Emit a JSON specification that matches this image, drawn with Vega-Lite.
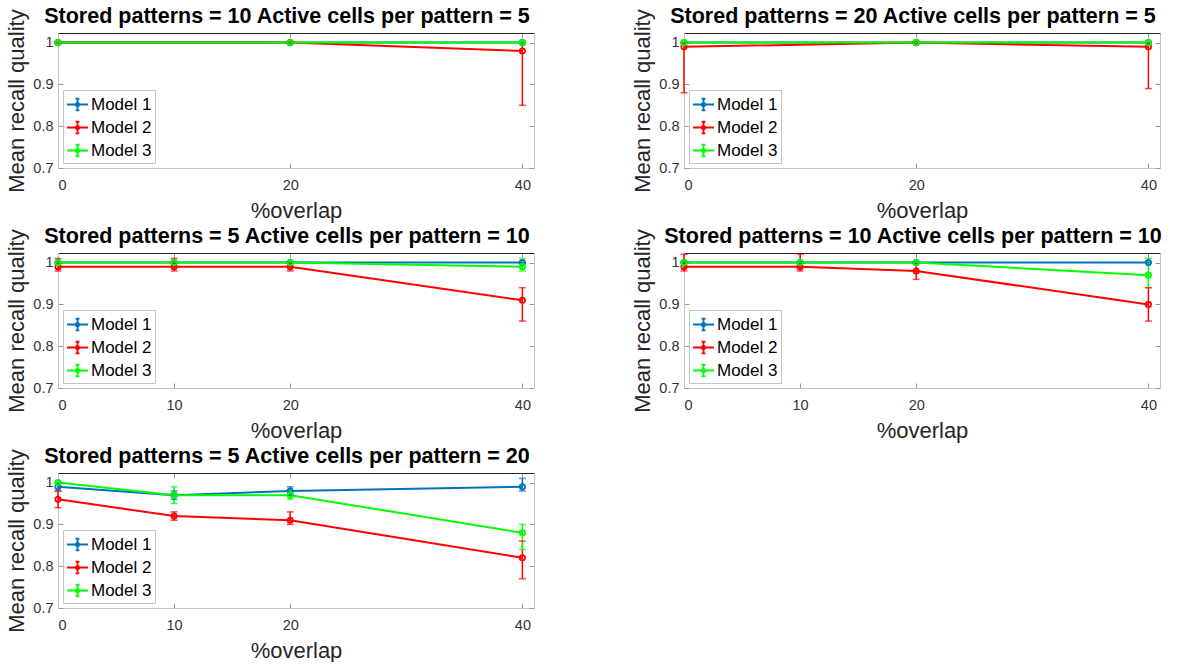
{
  "$schema": "https://vega.github.io/schema/vega-lite/v6.json",
  "padding": {"left": 5, "top": 5, "right": 0, "bottom": 0},
  "background": "white",
  "config": {
    "font": "Liberation Sans",
    "view": {"stroke": "#c4c4c4", "strokeWidth": 1},
    "axis": {
      "grid": false,
      "labelFont": "Liberation Sans",
      "labelFontSize": 14.5,
      "labelColor": "#333333",
      "titleFont": "Liberation Sans",
      "titleFontSize": 22,
      "titleFontWeight": "normal",
      "titleColor": "#262626",
      "domainColor": "#c4c4c4",
      "tickColor": "#9a9a9a",
      "tickSize": -5
    },
    "title": {"font": "Liberation Sans", "fontSize": 21.5, "fontWeight": "bold", "color": "#000000", "anchor": "middle", "offset": -19, "dx": -9},
    "legend": {
      "orient": "bottom-left",
      "offset": 5,
      "padding": 3,
      "strokeColor": "#c4c4c4",
      "fillColor": "white",
      "labelFont": "Liberation Sans",
      "labelFontSize": 17,
      "labelColor": "#000000",
      "labelOffset": 2,
      "rowPadding": 2,
      "symbolSize": 441,
      "symbolStrokeWidth": 1.8,
      "symbolType": "M-1,0H1M0,-0.55V0.55M-0.18,-0.55H0.18M-0.18,0.55H0.18M0.16,0A0.16,0.16,0,1,1,-0.16,0A0.16,0.16,0,1,1,0.16,0Z"
    }
  },
  "data": {
    "values": [
      {"panel": 1, "overlap": 0, "model": "Model 1", "mean": 1, "lo": 1, "hi": 1},
      {"panel": 1, "overlap": 20, "model": "Model 1", "mean": 1, "lo": 1, "hi": 1},
      {"panel": 1, "overlap": 40, "model": "Model 1", "mean": 1, "lo": 1, "hi": 1},
      {"panel": 1, "overlap": 0, "model": "Model 2", "mean": 1, "lo": 1, "hi": 1},
      {"panel": 1, "overlap": 20, "model": "Model 2", "mean": 1, "lo": 1, "hi": 1},
      {"panel": 1, "overlap": 40, "model": "Model 2", "mean": 0.98, "lo": 0.85, "hi": 1.0},
      {"panel": 1, "overlap": 0, "model": "Model 3", "mean": 1, "lo": 1, "hi": 1},
      {"panel": 1, "overlap": 20, "model": "Model 3", "mean": 1, "lo": 1, "hi": 1},
      {"panel": 1, "overlap": 40, "model": "Model 3", "mean": 1, "lo": 1, "hi": 1},

      {"panel": 2, "overlap": 0, "model": "Model 1", "mean": 1, "lo": 1, "hi": 1},
      {"panel": 2, "overlap": 20, "model": "Model 1", "mean": 1, "lo": 1, "hi": 1},
      {"panel": 2, "overlap": 40, "model": "Model 1", "mean": 1, "lo": 1, "hi": 1},
      {"panel": 2, "overlap": 0, "model": "Model 2", "mean": 0.99, "lo": 0.88, "hi": 1.0},
      {"panel": 2, "overlap": 20, "model": "Model 2", "mean": 1, "lo": 1, "hi": 1},
      {"panel": 2, "overlap": 40, "model": "Model 2", "mean": 0.99, "lo": 0.89, "hi": 1.0},
      {"panel": 2, "overlap": 0, "model": "Model 3", "mean": 1, "lo": 1, "hi": 1},
      {"panel": 2, "overlap": 20, "model": "Model 3", "mean": 1, "lo": 1, "hi": 1},
      {"panel": 2, "overlap": 40, "model": "Model 3", "mean": 1, "lo": 1, "hi": 1},

      {"panel": 3, "overlap": 0, "model": "Model 1", "mean": 1, "lo": 1, "hi": 1},
      {"panel": 3, "overlap": 10, "model": "Model 1", "mean": 1, "lo": 1, "hi": 1},
      {"panel": 3, "overlap": 20, "model": "Model 1", "mean": 1, "lo": 1, "hi": 1},
      {"panel": 3, "overlap": 40, "model": "Model 1", "mean": 1, "lo": 1, "hi": 1},
      {"panel": 3, "overlap": 0, "model": "Model 2", "mean": 0.99, "lo": 0.98, "hi": 1.01},
      {"panel": 3, "overlap": 10, "model": "Model 2", "mean": 0.99, "lo": 0.98, "hi": 1.01},
      {"panel": 3, "overlap": 20, "model": "Model 2", "mean": 0.99, "lo": 0.98, "hi": 1.0},
      {"panel": 3, "overlap": 40, "model": "Model 2", "mean": 0.91, "lo": 0.86, "hi": 0.94},
      {"panel": 3, "overlap": 0, "model": "Model 3", "mean": 1, "lo": 1, "hi": 1},
      {"panel": 3, "overlap": 10, "model": "Model 3", "mean": 1, "lo": 1, "hi": 1},
      {"panel": 3, "overlap": 20, "model": "Model 3", "mean": 1, "lo": 1, "hi": 1},
      {"panel": 3, "overlap": 40, "model": "Model 3", "mean": 0.99, "lo": 0.98, "hi": 1.01},

      {"panel": 4, "overlap": 0, "model": "Model 1", "mean": 1, "lo": 1, "hi": 1},
      {"panel": 4, "overlap": 10, "model": "Model 1", "mean": 1, "lo": 1, "hi": 1},
      {"panel": 4, "overlap": 20, "model": "Model 1", "mean": 1, "lo": 1, "hi": 1},
      {"panel": 4, "overlap": 40, "model": "Model 1", "mean": 1, "lo": 1, "hi": 1},
      {"panel": 4, "overlap": 0, "model": "Model 2", "mean": 0.99, "lo": 0.98, "hi": 1.02},
      {"panel": 4, "overlap": 10, "model": "Model 2", "mean": 0.99, "lo": 0.98, "hi": 1.02},
      {"panel": 4, "overlap": 20, "model": "Model 2", "mean": 0.98, "lo": 0.96, "hi": 1.0},
      {"panel": 4, "overlap": 40, "model": "Model 2", "mean": 0.90, "lo": 0.86, "hi": 0.94},
      {"panel": 4, "overlap": 0, "model": "Model 3", "mean": 1, "lo": 1, "hi": 1},
      {"panel": 4, "overlap": 10, "model": "Model 3", "mean": 1, "lo": 1, "hi": 1},
      {"panel": 4, "overlap": 20, "model": "Model 3", "mean": 1, "lo": 1, "hi": 1},
      {"panel": 4, "overlap": 40, "model": "Model 3", "mean": 0.97, "lo": 0.94, "hi": 1.01},

      {"panel": 5, "overlap": 0, "model": "Model 1", "mean": 0.99, "lo": 0.98, "hi": 1.0},
      {"panel": 5, "overlap": 10, "model": "Model 1", "mean": 0.97, "lo": 0.96, "hi": 0.98},
      {"panel": 5, "overlap": 20, "model": "Model 1", "mean": 0.98, "lo": 0.97, "hi": 0.99},
      {"panel": 5, "overlap": 40, "model": "Model 1", "mean": 0.99, "lo": 0.98, "hi": 1.01},
      {"panel": 5, "overlap": 0, "model": "Model 2", "mean": 0.96, "lo": 0.94, "hi": 0.98},
      {"panel": 5, "overlap": 10, "model": "Model 2", "mean": 0.92, "lo": 0.91, "hi": 0.93},
      {"panel": 5, "overlap": 20, "model": "Model 2", "mean": 0.91, "lo": 0.90, "hi": 0.93},
      {"panel": 5, "overlap": 40, "model": "Model 2", "mean": 0.82, "lo": 0.77, "hi": 0.86},
      {"panel": 5, "overlap": 0, "model": "Model 3", "mean": 1, "lo": 1, "hi": 1},
      {"panel": 5, "overlap": 10, "model": "Model 3", "mean": 0.97, "lo": 0.95, "hi": 0.99},
      {"panel": 5, "overlap": 20, "model": "Model 3", "mean": 0.97, "lo": 0.96, "hi": 0.98},
      {"panel": 5, "overlap": 40, "model": "Model 3", "mean": 0.88, "lo": 0.84, "hi": 0.90}
    ]
  },
  "columns": 2,
  "spacing": {"row": 85, "column": 150},
  "bounds": "flush",
  "resolve": {"scale": {"color": "independent"}, "legend": {"color": "independent"}},
  "concat": [
    {
      "title": "Stored patterns = 10 Active cells per pattern = 5",
      "width": 476, "height": 135,
      "transform": [{"filter": "datum.panel == 1"}],
      "resolve": {"axis": {"x": "independent", "y": "independent"}},
      "layer": [
        {"mark": {"type": "line", "strokeWidth": 2},
         "encoding": {
           "x": {"field": "overlap", "type": "quantitative", "scale": {"domain": [0, 41], "nice": false, "zero": false}, "axis": {"values": [0, 20, 40], "format": "d", "title": "%overlap", "labelPadding": 15, "titlePadding": 9}},
           "y": {"field": "mean", "type": "quantitative", "scale": {"domain": [0.7, 1.023], "nice": false, "zero": false}, "axis": {"values": [0.7, 0.8, 0.9, 1], "format": ".1~f", "title": "Mean recall quality", "labelPadding": 10, "titlePadding": 4}},
           "color": {"field": "model", "type": "nominal", "scale": {"domain": ["Model 1", "Model 2", "Model 3"], "range": ["#0072BD", "#FF0000", "#00FF00"]}, "legend": {"title": null}}
         }},
        {"mark": {"type": "rule", "strokeWidth": 1.5},
         "encoding": {
           "x": {"field": "overlap", "type": "quantitative", "axis": null},
           "y": {"field": "lo", "type": "quantitative", "axis": null},
           "y2": {"field": "hi"},
           "color": {"field": "model", "type": "nominal", "legend": null}
         }},
        {"mark": {"type": "tick", "orient": "horizontal", "size": 7, "thickness": 1.5},
         "encoding": {
           "x": {"field": "overlap", "type": "quantitative", "axis": null},
           "y": {"field": "lo", "type": "quantitative", "axis": null},
           "color": {"field": "model", "type": "nominal", "legend": null}
         }},
        {"mark": {"type": "tick", "orient": "horizontal", "size": 7, "thickness": 1.5},
         "encoding": {
           "x": {"field": "overlap", "type": "quantitative", "axis": null},
           "y": {"field": "hi", "type": "quantitative", "axis": null},
           "color": {"field": "model", "type": "nominal", "legend": null}
         }},
        {"mark": {"type": "point", "filled": false, "size": 28, "strokeWidth": 1.8, "opacity": 1},
         "encoding": {
           "x": {"field": "overlap", "type": "quantitative", "axis": {"orient": "top", "values": [0, 20, 40], "labels": false, "title": null, "domainColor": "#262626"}},
           "y": {"field": "mean", "type": "quantitative", "axis": {"orient": "right", "values": [0.7, 0.8, 0.9, 1], "labels": false, "title": null}},
           "color": {"field": "model", "type": "nominal", "legend": null}
         }}
      ]
    },
    {
      "title": "Stored patterns = 20 Active cells per pattern = 5",
      "width": 476, "height": 135,
      "transform": [{"filter": "datum.panel == 2"}],
      "resolve": {"axis": {"x": "independent", "y": "independent"}},
      "layer": [
        {"mark": {"type": "line", "strokeWidth": 2},
         "encoding": {
           "x": {"field": "overlap", "type": "quantitative", "scale": {"domain": [0, 41], "nice": false, "zero": false}, "axis": {"values": [0, 20, 40], "format": "d", "title": "%overlap", "labelPadding": 15, "titlePadding": 9}},
           "y": {"field": "mean", "type": "quantitative", "scale": {"domain": [0.7, 1.023], "nice": false, "zero": false}, "axis": {"values": [0.7, 0.8, 0.9, 1], "format": ".1~f", "title": "Mean recall quality", "labelPadding": 10, "titlePadding": 4}},
           "color": {"field": "model", "type": "nominal", "scale": {"domain": ["Model 1", "Model 2", "Model 3"], "range": ["#0072BD", "#FF0000", "#00FF00"]}, "legend": {"title": null}}
         }},
        {"mark": {"type": "rule", "strokeWidth": 1.5},
         "encoding": {
           "x": {"field": "overlap", "type": "quantitative", "axis": null},
           "y": {"field": "lo", "type": "quantitative", "axis": null},
           "y2": {"field": "hi"},
           "color": {"field": "model", "type": "nominal", "legend": null}
         }},
        {"mark": {"type": "tick", "orient": "horizontal", "size": 7, "thickness": 1.5},
         "encoding": {
           "x": {"field": "overlap", "type": "quantitative", "axis": null},
           "y": {"field": "lo", "type": "quantitative", "axis": null},
           "color": {"field": "model", "type": "nominal", "legend": null}
         }},
        {"mark": {"type": "tick", "orient": "horizontal", "size": 7, "thickness": 1.5},
         "encoding": {
           "x": {"field": "overlap", "type": "quantitative", "axis": null},
           "y": {"field": "hi", "type": "quantitative", "axis": null},
           "color": {"field": "model", "type": "nominal", "legend": null}
         }},
        {"mark": {"type": "point", "filled": false, "size": 28, "strokeWidth": 1.8, "opacity": 1},
         "encoding": {
           "x": {"field": "overlap", "type": "quantitative", "axis": {"orient": "top", "values": [0, 20, 40], "labels": false, "title": null, "domainColor": "#262626"}},
           "y": {"field": "mean", "type": "quantitative", "axis": {"orient": "right", "values": [0.7, 0.8, 0.9, 1], "labels": false, "title": null}},
           "color": {"field": "model", "type": "nominal", "legend": null}
         }}
      ]
    },
    {
      "title": "Stored patterns = 5 Active cells per pattern = 10",
      "width": 476, "height": 135,
      "transform": [{"filter": "datum.panel == 3"}],
      "resolve": {"axis": {"x": "independent", "y": "independent"}},
      "layer": [
        {"mark": {"type": "line", "strokeWidth": 2},
         "encoding": {
           "x": {"field": "overlap", "type": "quantitative", "scale": {"domain": [0, 41], "nice": false, "zero": false}, "axis": {"values": [0, 10, 20, 40], "format": "d", "title": "%overlap", "labelPadding": 15, "titlePadding": 9}},
           "y": {"field": "mean", "type": "quantitative", "scale": {"domain": [0.7, 1.023], "nice": false, "zero": false}, "axis": {"values": [0.7, 0.8, 0.9, 1], "format": ".1~f", "title": "Mean recall quality", "labelPadding": 10, "titlePadding": 4}},
           "color": {"field": "model", "type": "nominal", "scale": {"domain": ["Model 1", "Model 2", "Model 3"], "range": ["#0072BD", "#FF0000", "#00FF00"]}, "legend": {"title": null}}
         }},
        {"mark": {"type": "rule", "strokeWidth": 1.5},
         "encoding": {
           "x": {"field": "overlap", "type": "quantitative", "axis": null},
           "y": {"field": "lo", "type": "quantitative", "axis": null},
           "y2": {"field": "hi"},
           "color": {"field": "model", "type": "nominal", "legend": null}
         }},
        {"mark": {"type": "tick", "orient": "horizontal", "size": 7, "thickness": 1.5},
         "encoding": {
           "x": {"field": "overlap", "type": "quantitative", "axis": null},
           "y": {"field": "lo", "type": "quantitative", "axis": null},
           "color": {"field": "model", "type": "nominal", "legend": null}
         }},
        {"mark": {"type": "tick", "orient": "horizontal", "size": 7, "thickness": 1.5},
         "encoding": {
           "x": {"field": "overlap", "type": "quantitative", "axis": null},
           "y": {"field": "hi", "type": "quantitative", "axis": null},
           "color": {"field": "model", "type": "nominal", "legend": null}
         }},
        {"mark": {"type": "point", "filled": false, "size": 28, "strokeWidth": 1.8, "opacity": 1},
         "encoding": {
           "x": {"field": "overlap", "type": "quantitative", "axis": {"orient": "top", "values": [0, 10, 20, 40], "labels": false, "title": null, "domainColor": "#262626"}},
           "y": {"field": "mean", "type": "quantitative", "axis": {"orient": "right", "values": [0.7, 0.8, 0.9, 1], "labels": false, "title": null}},
           "color": {"field": "model", "type": "nominal", "legend": null}
         }}
      ]
    },
    {
      "title": "Stored patterns = 10 Active cells per pattern = 10",
      "width": 476, "height": 135,
      "transform": [{"filter": "datum.panel == 4"}],
      "resolve": {"axis": {"x": "independent", "y": "independent"}},
      "layer": [
        {"mark": {"type": "line", "strokeWidth": 2},
         "encoding": {
           "x": {"field": "overlap", "type": "quantitative", "scale": {"domain": [0, 41], "nice": false, "zero": false}, "axis": {"values": [0, 10, 20, 40], "format": "d", "title": "%overlap", "labelPadding": 15, "titlePadding": 9}},
           "y": {"field": "mean", "type": "quantitative", "scale": {"domain": [0.7, 1.023], "nice": false, "zero": false}, "axis": {"values": [0.7, 0.8, 0.9, 1], "format": ".1~f", "title": "Mean recall quality", "labelPadding": 10, "titlePadding": 4}},
           "color": {"field": "model", "type": "nominal", "scale": {"domain": ["Model 1", "Model 2", "Model 3"], "range": ["#0072BD", "#FF0000", "#00FF00"]}, "legend": {"title": null}}
         }},
        {"mark": {"type": "rule", "strokeWidth": 1.5},
         "encoding": {
           "x": {"field": "overlap", "type": "quantitative", "axis": null},
           "y": {"field": "lo", "type": "quantitative", "axis": null},
           "y2": {"field": "hi"},
           "color": {"field": "model", "type": "nominal", "legend": null}
         }},
        {"mark": {"type": "tick", "orient": "horizontal", "size": 7, "thickness": 1.5},
         "encoding": {
           "x": {"field": "overlap", "type": "quantitative", "axis": null},
           "y": {"field": "lo", "type": "quantitative", "axis": null},
           "color": {"field": "model", "type": "nominal", "legend": null}
         }},
        {"mark": {"type": "tick", "orient": "horizontal", "size": 7, "thickness": 1.5},
         "encoding": {
           "x": {"field": "overlap", "type": "quantitative", "axis": null},
           "y": {"field": "hi", "type": "quantitative", "axis": null},
           "color": {"field": "model", "type": "nominal", "legend": null}
         }},
        {"mark": {"type": "point", "filled": false, "size": 28, "strokeWidth": 1.8, "opacity": 1},
         "encoding": {
           "x": {"field": "overlap", "type": "quantitative", "axis": {"orient": "top", "values": [0, 10, 20, 40], "labels": false, "title": null, "domainColor": "#262626"}},
           "y": {"field": "mean", "type": "quantitative", "axis": {"orient": "right", "values": [0.7, 0.8, 0.9, 1], "labels": false, "title": null}},
           "color": {"field": "model", "type": "nominal", "legend": null}
         }}
      ]
    },
    {
      "title": "Stored patterns = 5 Active cells per pattern = 20",
      "width": 476, "height": 135,
      "transform": [{"filter": "datum.panel == 5"}],
      "resolve": {"axis": {"x": "independent", "y": "independent"}},
      "layer": [
        {"mark": {"type": "line", "strokeWidth": 2},
         "encoding": {
           "x": {"field": "overlap", "type": "quantitative", "scale": {"domain": [0, 41], "nice": false, "zero": false}, "axis": {"values": [0, 10, 20, 40], "format": "d", "title": "%overlap", "labelPadding": 15, "titlePadding": 9}},
           "y": {"field": "mean", "type": "quantitative", "scale": {"domain": [0.7, 1.023], "nice": false, "zero": false}, "axis": {"values": [0.7, 0.8, 0.9, 1], "format": ".1~f", "title": "Mean recall quality", "labelPadding": 10, "titlePadding": 4}},
           "color": {"field": "model", "type": "nominal", "scale": {"domain": ["Model 1", "Model 2", "Model 3"], "range": ["#0072BD", "#FF0000", "#00FF00"]}, "legend": {"title": null}}
         }},
        {"mark": {"type": "rule", "strokeWidth": 1.5},
         "encoding": {
           "x": {"field": "overlap", "type": "quantitative", "axis": null},
           "y": {"field": "lo", "type": "quantitative", "axis": null},
           "y2": {"field": "hi"},
           "color": {"field": "model", "type": "nominal", "legend": null}
         }},
        {"mark": {"type": "tick", "orient": "horizontal", "size": 7, "thickness": 1.5},
         "encoding": {
           "x": {"field": "overlap", "type": "quantitative", "axis": null},
           "y": {"field": "lo", "type": "quantitative", "axis": null},
           "color": {"field": "model", "type": "nominal", "legend": null}
         }},
        {"mark": {"type": "tick", "orient": "horizontal", "size": 7, "thickness": 1.5},
         "encoding": {
           "x": {"field": "overlap", "type": "quantitative", "axis": null},
           "y": {"field": "hi", "type": "quantitative", "axis": null},
           "color": {"field": "model", "type": "nominal", "legend": null}
         }},
        {"mark": {"type": "point", "filled": false, "size": 28, "strokeWidth": 1.8, "opacity": 1},
         "encoding": {
           "x": {"field": "overlap", "type": "quantitative", "axis": {"orient": "top", "values": [0, 10, 20, 40], "labels": false, "title": null, "domainColor": "#262626"}},
           "y": {"field": "mean", "type": "quantitative", "axis": {"orient": "right", "values": [0.7, 0.8, 0.9, 1], "labels": false, "title": null}},
           "color": {"field": "model", "type": "nominal", "legend": null}
         }}
      ]
    }
  ]
}
